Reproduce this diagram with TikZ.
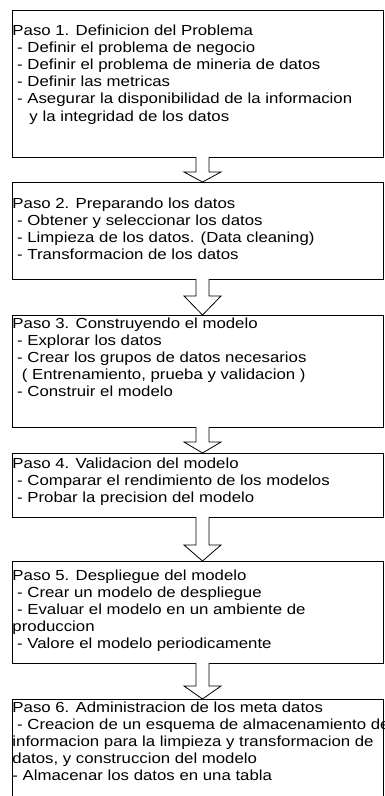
\documentclass[tikz,border=0pt]{standalone}
\usepackage{fontspec}
\setmainfont{Liberation Sans}[FakeStretch=1.15]
\usetikzlibrary{calc}
\tikzset{
  stepbox/.style={draw=black, line width=0.8pt, fill=white, anchor=north west,
    minimum width=371.5pt, inner sep=0pt, outer sep=0pt},
  steptext/.style={anchor=north west, align=left, inner sep=0pt, outer sep=0pt,
    font=\fontsize{14.6pt}{17.2pt}\selectfont},
  blockarr/.style={draw=black, line width=0.8pt, fill=white, line join=miter},
}
\newcommand\fstrut{\rule{0pt}{12pt}}
% #1 from node, #2 to node, #3 head height
\newcommand\blockarrow[3]{%
  \draw[blockarr]
    ($(#1.south -| ax)+(-6.5,0)$) --
    ($(#2.north -| ax)+(-6.5,#3)$) --
    ($(#2.north -| ax)+(-18.5,#3)$) --
    (#2.north -| ax) --
    ($(#2.north -| ax)+(18.5,#3)$) --
    ($(#2.north -| ax)+(6.5,#3)$) --
    ($(#1.south -| ax)+(6.5,0)$);}
\begin{document}
\begin{tikzpicture}[x=1pt,y=1pt]
\useasboundingbox (0,0) rectangle (384,-796);
\clip (0,0) rectangle (384,-796);
\coordinate (ax) at (202.5,0);

\node[stepbox, minimum height=147pt] (b1) at (12,-10) {};
\node[stepbox, minimum height=97pt]  (b2) at (12,-182) {};
\node[stepbox, minimum height=112pt] (b3) at (12,-315) {};
\node[stepbox, minimum height=64pt]  (b4) at (12,-453) {};
\node[stepbox, minimum height=102pt] (b5) at (12,-561) {};
\node[stepbox, minimum height=111pt] (b6) at (12,-699) {};

\blockarrow{b1}{b2}{10}
\blockarrow{b2}{b3}{19}
\blockarrow{b3}{b4}{11}
\blockarrow{b4}{b5}{16}
\blockarrow{b5}{b6}{13}

\node[steptext] (t1) at (12.5,-23) {\fstrut Paso 1. Definicion del Problema\\
~- Definir el problema de negocio\\
~- Definir el problema de mineria de datos\\
~- Definir las metricas\\
~- Asegurar la disponibilidad de la informacion\\
\hspace*{17pt}y la integridad de los datos};

\node[steptext] (t2) at (12.5,-196) {\fstrut Paso 2. Preparando los datos\\
~- Obtener y seleccionar los datos\\
~- Limpieza de los datos. (Data cleaning)\\
~- Transformacion de los datos};

\node[steptext] (t3) at (12.5,-316) {\fstrut Paso 3. Construyendo el modelo\\
~- Explorar los datos\\
~- Crear los grupos de datos necesarios\\
~~( Entrenamiento, prueba y validacion )\\
~- Construir el modelo};

\node[steptext] (t4) at (12.5,-456) {\fstrut Paso 4. Validacion del modelo\\
~- Comparar el rendimiento de los modelos\\
~- Probar la precision del modelo};

\node[steptext] (t5) at (12.5,-568) {\fstrut Paso 5. Despliegue del modelo\\
~- Crear un modelo de despliegue\\
~- Evaluar el modelo en un ambiente de\\
produccion\\
~- Valore el modelo periodicamente};

\node[steptext] (t6) at (12.5,-700) {\fstrut Paso 6. Administracion de los meta datos\\
~- Creacion de un esquema de almacenamiento de\\
informacion para la limpieza y transformacion de\\
datos, y construccion del modelo\\
- Almacenar los datos en una tabla};
\end{tikzpicture}
\end{document}
